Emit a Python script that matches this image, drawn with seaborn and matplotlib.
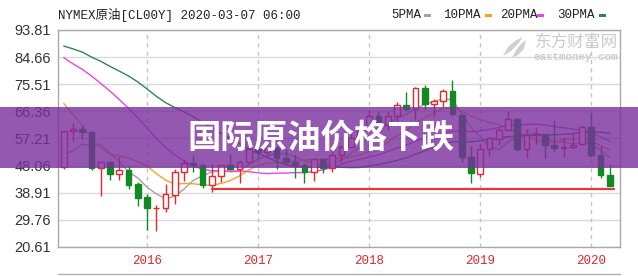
import numpy as np
import pandas as pd
import matplotlib
matplotlib.use("Agg")
import matplotlib.pyplot as plt
from matplotlib.patches import Rectangle, Polygon
import seaborn as sns

# ---------------- data (monthly WTI candles, Apr 2015 - Mar 2020) ----------------
opens = [47.66, 59.60, 60.30, 59.50, 47.10, 49.20, 45.10, 46.60, 41.70,
         37.60, 33.60, 33.80, 38.30, 45.90, 49.10, 48.30, 41.60, 44.70, 48.20, 46.90, 49.40,
         53.70, 52.80, 54.00, 50.60, 49.30, 48.30, 46.00, 50.20, 47.20, 51.70, 54.40, 57.40,
         60.40, 64.70, 61.60, 64.90, 68.60, 67.00, 74.20, 68.80, 69.80, 73.30, 65.30, 50.90,
         45.40, 53.80, 57.20, 60.10, 63.90, 53.50, 58.50, 58.60, 55.10, 54.10, 54.20, 55.20,
         61.10, 51.60, 44.80]
highs = [59.90, 62.58, 61.79, 59.80, 49.20, 49.70, 50.92, 48.36, 42.58,
         38.39, 34.69, 41.90, 46.78, 50.21, 51.67, 49.00, 48.75, 48.35, 51.93, 49.94, 54.51,
         55.24, 54.94, 54.60, 53.76, 52.00, 48.99, 50.43, 50.22, 52.86, 54.87, 59.05, 60.51,
         66.66, 66.34, 66.55, 69.56, 72.90, 74.46, 75.27, 70.41, 73.84, 76.90, 65.50, 54.55,
         55.37, 57.81, 60.73, 66.60, 63.99, 60.27, 60.94, 58.76, 63.38, 57.47, 58.74, 61.87,
         65.65, 54.66, 48.66]
lows = [47.05, 56.51, 56.99, 46.68, 37.75, 43.21, 43.22, 40.05, 34.53,
        26.19, 26.05, 32.32, 35.24, 43.03, 45.83, 40.57, 39.19, 42.52, 46.42, 42.20, 49.30,
        50.71, 51.22, 47.09, 48.18, 43.76, 42.05, 42.80, 45.58, 45.80, 49.10, 54.20, 55.82,
        59.77, 58.07, 59.95, 61.84, 66.40, 63.59, 67.03, 64.43, 67.68, 64.86, 49.41, 42.36,
        44.35, 51.23, 55.00, 60.00, 53.05, 50.60, 55.36, 50.52, 52.80, 50.99, 54.00, 55.00,
        51.06, 44.00, 41.05]
closes = [59.63, 60.30, 59.47, 47.12, 49.20, 45.09, 46.59, 41.65, 37.04,
          33.62, 33.75, 38.34, 45.92, 49.10, 48.33, 41.60, 44.70, 48.24, 46.86, 49.44, 53.72,
          52.81, 54.01, 50.60, 49.33, 48.32, 46.04, 50.17, 47.23, 51.67, 54.38, 57.40, 60.42,
          64.73, 61.64, 64.94, 68.57, 67.04, 74.15, 68.76, 69.80, 73.25, 65.31, 50.93, 45.41,
          53.79, 57.22, 60.14, 63.91, 53.50, 58.47, 58.58, 55.10, 54.07, 54.18, 55.17, 61.06,
          51.56, 44.76, 41.28]
# monthly closes Nov 2012 - Mar 2015 (needed for the moving averages at the left edge)
prior_closes = [88.91, 91.82,
                97.49, 92.05, 97.23, 93.46, 91.97, 96.56, 105.03, 107.65, 102.33, 96.38, 92.72, 98.42,
                97.49, 102.59, 101.58, 99.74, 102.71, 105.37, 98.17, 95.96, 91.16, 80.54, 66.15, 53.27,
                48.24, 49.76, 47.60]
ma_periods = [5, 10, 20, 30]
ma_labels = ["5PMA", "10PMA", "20PMA", "30PMA"]
ma_colors = ["#a3a3a3", "#f2a51f", "#e845e8", "#2f8650"]
support_level = 40.2
support_start = 16
yticks = [93.81, 84.66, 75.51, 66.36, 57.21, 48.06, 38.91, 29.76, 20.61]
year_labels = ["2016", "2017", "2018", "2019", "2020"]
year_pos = [9, 21, 33, 45, 57]
title = "NYMEX原油[CL00Y] 2020-03-07 06:00"
banner = "国际原油价格下跌"

# ---------------- figure ----------------
sns.set_theme(style="white")
plt.rcParams["font.family"] = ["Liberation Sans", "Noto Sans CJK SC", "DejaVu Sans"]

W, H = 638, 276
fig = plt.figure(figsize=(W / 100, H / 100), dpi=100)
fig.patch.set_facecolor("white")
ax = fig.add_axes([58 / W, 1 - 247 / H, (620 - 58) / W, (247 - 30) / H])
ax.set_facecolor("white")

n = len(closes)
idx = np.arange(n)
all_closes = pd.Series(prior_closes + closes)
df = pd.DataFrame({"i": idx})
for p, lab in zip(ma_periods, ma_labels):
    df[lab] = all_closes.rolling(p).mean().to_numpy()[len(prior_closes):]

# grid
for v in yticks:
    ax.axhline(v, color="#dadada", lw=1.0, zorder=0)
for x in year_pos:
    ax.axvline(x, color="#c4c4c4", lw=1.0, ls=(0, (3, 3)), zorder=0)

# moving averages
for lab, col in zip(ma_labels, ma_colors):
    sns.lineplot(data=df, x="i", y=lab, ax=ax, color=col, lw=1.0, zorder=2)

# candles
up_col, dn_col = "#e8262c", "#128a24"
for i in idx:
    o, h, l, c = opens[i], highs[i], lows[i], closes[i]
    up = c >= o
    col = up_col if up else dn_col
    ax.vlines(i, l, h, color=col, lw=1.0, zorder=3)
    bh = max(abs(c - o), 0.25)
    ax.bar(i, bh, bottom=min(o, c), width=0.62,
           facecolor="white" if up else dn_col, edgecolor=col, lw=1.0, zorder=4)

# support line
ax.plot([support_start, n - 1 + 0.4], [support_level, support_level], color="#e53935", lw=1.6, zorder=5)

ax.set_xlim(-0.62, 60.1)
ax.set_ylim(20.61, 93.81)
ax.set_yticks(yticks)
ax.set_yticklabels([f"{v:.2f}" for v in yticks])
ax.set_xticks(year_pos)
ax.set_xticklabels(year_labels)
ax.set_xlabel("")
ax.set_ylabel("")
ax.tick_params(axis="y", length=0, pad=5, labelsize=10.5, labelcolor="#333333")
ax.tick_params(axis="x", length=0, pad=6, labelsize=9, labelcolor="#e02828")
for t in ax.get_xticklabels():
    t.set_family(["Liberation Mono"])
for s in ax.spines.values():
    s.set_color("#a9a9a9")
    s.set_linewidth(1.0)

# title and legend
fig.text(58 / W, 1 - 15 / H, title, ha="left", va="center", fontsize=9, color="#222222",
         family=["Liberation Mono", "Noto Sans CJK SC"])
lx = [391, 443, 500, 557]
dx = [424, 485, 537, 599]
for lab, col, x0, x1 in zip(ma_labels, ma_colors, lx, dx):
    fig.text(x0 / W, 1 - 15 / H, lab, ha="left", va="center", fontsize=9, color="#222222",
             family=["Liberation Mono"])
    fig.add_artist(Rectangle((x1 / W, 1 - 17 / H), 7 / W, 3.5 / H, transform=fig.transFigure,
                             facecolor=col, edgecolor="none"))

# watermark
def fp(px, py):
    return (px / W, 1 - py / H)

fig.text(618 / W, 1 - 42.5 / H, "东方财富网", ha="right", va="center", fontsize=12, color="#cbcbcb",
         family=["Noto Sans CJK SC"])
fig.text(618 / W, 1 - 57 / H, "eastmoney.com", ha="right", va="center", fontsize=7.8, color="#cdcdcd",
         family=["Liberation Mono"], fontweight="bold")
logo1 = [fp(503, 56), fp(508, 47), fp(515, 41), fp(523, 37), fp(518, 44), fp(511, 51)]
logo2 = [fp(512, 58), fp(516, 50), fp(521, 44), fp(526, 40), fp(524, 49), fp(518, 55)]
for pts in (logo1, logo2):
    fig.add_artist(Polygon(pts, closed=True, transform=fig.transFigure,
                           facecolor="#cfcfcf", edgecolor="none"))

# bottom panel line
fig.add_artist(plt.Line2D([58 / W, 620 / W], [1 - 274 / H, 1 - 274 / H], transform=fig.transFigure,
                          color="#b0b0b0", lw=1.0))

# banner overlay
fig.add_artist(Rectangle((0, 1 - 168 / H), 1, 61 / H, transform=fig.transFigure,
                         facecolor="#7a2e9e", edgecolor="none", alpha=0.8, zorder=10))
fig.text(321 / W, 1 - 138 / H, banner, ha="center", va="center", fontsize=24, fontweight="bold",
         color="white", family=["Noto Sans CJK SC"], zorder=11)

fig.savefig("out.png", dpi=100)
